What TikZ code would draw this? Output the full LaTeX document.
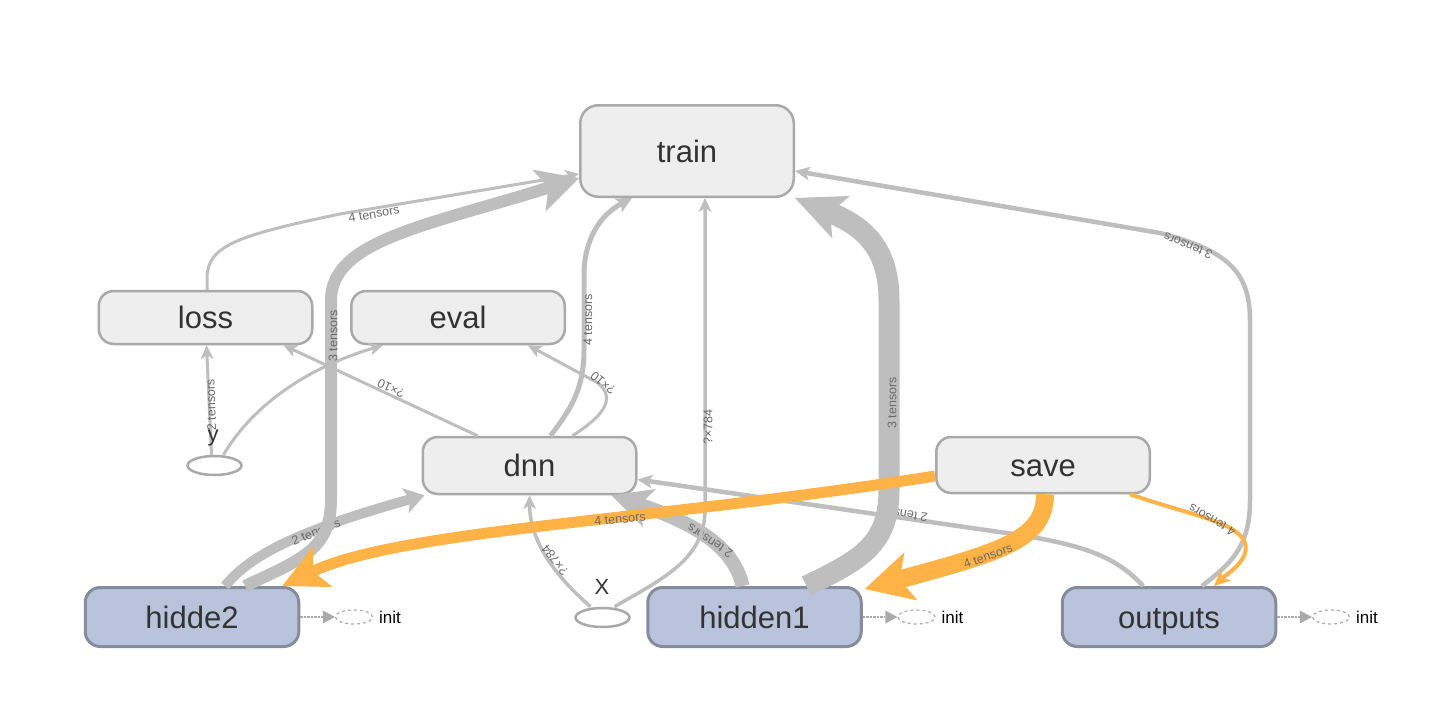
\documentclass[tikz,border=0pt]{standalone}
\usepackage{fontspec}
\setmainfont{Liberation Sans}
\usetikzlibrary{arrows.meta,shapes.geometric}
\definecolor{boxfill}{HTML}{EEEEEE}
\definecolor{boxline}{HTML}{A9A9A9}
\definecolor{hfill}{HTML}{B9C3DB}
\definecolor{hline}{HTML}{878C9C}
\definecolor{edgec}{HTML}{BEBEBE}
\definecolor{orangec}{HTML}{FFB347}
\definecolor{txt}{HTML}{333333}
\definecolor{labc}{HTML}{6A6A6A}
\definecolor{initc}{HTML}{AAAAAA}
\begin{document}
\begin{tikzpicture}[x=1pt,y=-1pt,
  box/.style={draw=boxline, fill=boxfill, line width=2.5pt, rounded corners=15pt,
    minimum width=213.5pt, minimum height=53pt, text=txt, inner sep=0pt,
    text height=22pt, text depth=0pt,
    font=\fontsize{31}{31}\selectfont},
  hbox/.style={box, draw=hline, fill=hfill, line width=3pt, minimum height=59pt},
  ph/.style={ellipse, draw=boxline, line width=2.5pt, minimum width=54pt,
    minimum height=19pt, inner sep=0pt},
  initell/.style={ellipse, draw=initc, dashed, line width=1.2pt,
    minimum width=37pt, minimum height=14pt, inner sep=0pt},
  inittext/.style={text=black, font=\fontsize{17}{17}\selectfont, inner sep=0pt, anchor=west},
  initarrow/.style={draw=initc, densely dotted, line width=2.5pt,
    -{Triangle[length=12pt,width=13pt,line width=0pt]}},
  phlabel/.style={text=txt, font=\fontsize{22}{22}\selectfont, inner sep=0pt},
  flow/.style={draw=edgec},
  oflow/.style={draw=orangec},
  thinhead/.style={-{Stealth[length=14pt,width=13pt,inset=4pt,line width=0pt]}},
  elabel/.style={text=labc, font=\fontsize{12.5}{12.5}\selectfont, inner sep=0pt}
]
\fill[white] (0,0) rectangle (1446,726);
\useasboundingbox (0,0) rectangle (1446,726);

% operation nodes
\node[box, minimum height=91.5pt, rounded corners=18pt] (train) at (687,151) {train};
\node[box] (loss) at (205.5,317.5) {loss};
\node[box] (eval) at (458,317.5) {eval};
\node[box, minimum height=57pt] (dnn) at (529.5,465.5) {dnn};
\node[box, minimum height=56pt] (save) at (1043,465) {save};
\node[hbox] (hidde2) at (192,617) {hidde2};
\node[hbox] (hidden1) at (754.5,617) {hidden1};
\node[hbox] (outputs) at (1169,617) {outputs};

% placeholders
\node[ph] (y) at (214.5,465.5) {};
\node[ph] (x) at (602.5,617.5) {};

% init nodes
\node[initell] (i2) at (354,617) {};
\node[initell] (i1) at (916.5,617) {};
\node[initell] (io) at (1331,617) {};
\node[inittext] (t2) at (379,617) {init};
\node[inittext] (t1) at (941.5,617) {init};
\node[inittext] (to) at (1356,617) {init};
\draw[initarrow] (hidde2.east) -- (i2.west);
\draw[initarrow] (hidden1.east) -- (i1.west);
\draw[initarrow] (outputs.east) -- (io.west);

% thin data flows
\draw[flow, line width=3pt, thinhead] ([xshift=-3pt]y.north) -- ([xshift=1pt]loss.south)
  node[elabel, rotate=92] at (211,405) {2 tensors};
\draw[flow, line width=3pt, thinhead] ([xshift=9pt]y.north)
  .. controls (250,410) and (300,370) .. ([xshift=-75pt]eval.south);
\draw[flow, line width=3pt, thinhead] ([xshift=-52pt]dnn.north) -- ([xshift=78pt]loss.south)
  node[elabel, rotate=155] at (391,388) {?×10};
\draw[flow, line width=3pt, thinhead] ([xshift=43pt]dnn.north)
  .. controls (600,418) and (618,400) .. (598,383) -- ([xshift=70pt]eval.south)
  node[elabel, rotate=140] at (603,383) {?×10};
\draw[flow, line width=3pt, thinhead] ([xshift=1.5pt]loss.north) -- (207,278)
  .. controls (207,245) and (240,235) .. (340,214) -- ([yshift=-23pt]train.west)
  node[elabel, rotate=10] at (374,214) {4 tensors};
\draw[flow, line width=5pt, -{Stealth[length=16pt,width=16pt,inset=4pt,line width=0pt]}]
  ([xshift=21pt]dnn.north) .. controls (570,410) and (584,390) .. (584,350) -- (584,275)
  .. controls (584,240) and (600,215) .. ([xshift=-55pt]train.south)
  node[elabel, rotate=90] at (588,320) {4 tensors};
\draw[flow, line width=4.5pt, -{Stealth[length=15pt,width=14pt,inset=4pt,line width=0pt]}]
  ([xshift=-26pt]outputs.north) .. controls (1115,555) and (1080,545) .. (1020,535)
  -- ([yshift=-14pt]dnn.east)
  node[elabel, rotate=171] at (902,514) {2 tensors};
\draw[flow, line width=10pt, -{Stealth[length=20pt,width=26pt,inset=5pt,line width=0pt]}]
  ([xshift=33pt]hidde2.north) .. controls (250,555) and (300,530) .. ([xshift=3pt]dnn.south west)
  node[elabel, rotate=22] at (316,532) {2 tensors};
\draw[flow, line width=14pt, -{Stealth[length=40pt,width=40pt,inset=10pt,line width=0pt]}]
  ([xshift=-12pt]hidden1.north) .. controls (735,550) and (700,525) .. ([xshift=82pt]dnn.south)
  node[elabel, rotate=147] at (710,541) {2 tensors};
\draw[flow, line width=3.5pt, thinhead] ([xshift=-12pt]x.north)
  .. controls (560,580) and (530,545) .. (dnn.south)
  node[elabel, rotate=128] at (555,560) {?×784};
\draw[flow, line width=3.5pt, thinhead] ([xshift=12pt]x.north)
  .. controls (660,580) and (705,560) .. (705,510) -- ([xshift=18pt]train.south)
  node[elabel, rotate=90] at (708,427) {?×784};

% heavy flows into train
\draw[flow, line width=12pt, -{Stealth[length=42pt,width=44pt,inset=10pt,line width=0pt]}]
  ([xshift=53pt]hidde2.north) .. controls (300,560) and (331,550) .. (331,500) -- (331,300)
  .. controls (331,240) and (430,225) .. ([yshift=-27pt]train.west)
  node[elabel, rotate=90] at (333,336) {3 tensors};
\draw[flow, line width=21pt, -{Stealth[length=50pt,width=46pt,inset=12pt,line width=0pt]}]
  ([xshift=52pt]hidden1.north) .. controls (860,560) and (889,545) .. (889,490) -- (889,300)
  .. controls (889,245) and (860,225) .. (train.south east)
  node[elabel, rotate=90] at (892,403) {3 tensors};
\draw[flow, line width=4.5pt, -{Stealth[length=15pt,width=14pt,inset=4pt,line width=0pt]}]
  ([xshift=33pt]outputs.north) .. controls (1228,565) and (1250,550) .. (1250,500) -- (1250,320)
  .. controls (1250,270) and (1225,250) .. (1160,233) -- ([yshift=-20pt]train.east)
  node[elabel, rotate=158] at (1188,246) {3 tensors};

% save flows
\draw[oflow, line width=11pt, -{Stealth[length=45pt,width=45pt,inset=11pt,line width=0pt]}]
  ([yshift=-11pt]save.west) .. controls (660,520) and (400,530) .. ([xshift=-18pt]hidde2.north east)
  node[elabel, rotate=6] at (620,519) {4 tensors};
\draw[oflow, line width=18pt, -{Stealth[length=48pt,width=50pt,inset=12pt,line width=0pt]}]
  ([xshift=2pt]save.south) .. controls (1045,540) and (1000,552) .. ([xshift=2pt,yshift=-3pt]hidden1.north east)
  node[elabel, rotate=20] at (988,556) {4 tensors};
\draw[oflow, line width=4pt, -{Stealth[length=16pt,width=15pt,inset=4pt,line width=0pt]}]
  ([xshift=-21pt]save.south east) .. controls (1190,515) and (1238,522) .. (1245,543)
  .. controls (1250,560) and (1228,573) .. ([xshift=45pt]outputs.north)
  node[elabel, rotate=150] at (1212,520) {4 tensors};

% placeholder names
\node[phlabel] (ylab) at (213,438) {y};
\node[phlabel] (xlab) at (602,587) {X};
\end{tikzpicture}
\end{document}
